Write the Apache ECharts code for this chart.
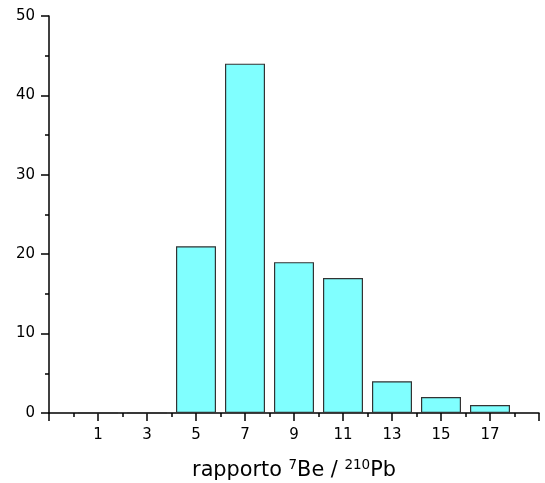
<!DOCTYPE html>
<html>
<head>
<meta charset="utf-8">
<script src="https://cdn.jsdelivr.net/npm/echarts@6/dist/echarts.min.js"></script>
<style>
  html, body { margin: 0; padding: 0; background: #fff; }
  #chart { width: 545px; height: 483px; }
</style>
</head>
<body>
<div id="chart"></div>
<script>
// Bin centres of the 7Be/210Pb ratio histogram and their counts
const binCenters = [1, 3, 5, 7, 9, 11, 13, 15, 17];
const counts = [0, 0, 21, 44, 19, 17, 4, 2, 1];
// Labelled tick positions on the ratio axis
const xTickLabels = [1, 3, 5, 7, 9, 11, 13, 15, 17];
const yTicks = [0, 10, 20, 30, 40, 50];

const FONT = 'DejaVu Sans';
const INK = '#000';

const chart = echarts.init(document.getElementById('chart'), null, { renderer: 'canvas' });

// The visible ratio axis runs from -1 to 19 with long ticks on odd values
// and short ticks on even values; it is expressed as an offset scale (0..20)
// so that the interval-2 major ticks land on the odd values.
const OFFSET = 1;

chart.setOption({
  animation: false,
  backgroundColor: '#fff',
  grid: { left: 49, right: 6, top: 16, bottom: 70, outerBoundsMode: 'none', containLabel: false },
  xAxis: [
    {
      type: 'value',
      min: -1 + OFFSET,
      max: 19 + OFFSET,
      interval: 2,
      position: 'bottom',
      axisLine: { show: true, lineStyle: { color: INK, width: 1.5 } },
      axisTick: { show: true, inside: false, length: 8, lineStyle: { color: INK, width: 1.5 } },
      minorTick: { show: true, splitNumber: 2, length: 4, lineStyle: { color: INK, width: 1.5 } },
      splitLine: { show: false },
      axisLabel: {
        color: INK,
        fontFamily: FONT,
        fontSize: 15,
        margin: 15,
        formatter: function (v) {
          const r = Math.round(v - OFFSET);
          return xTickLabels.indexOf(r) >= 0 ? String(r) : '';
        }
      },
      name: '{a|rapporto }{s|7}{a|Be / }{s|210}{a|Pb}',
      nameLocation: 'middle',
      nameGap: 45,
      nameTextStyle: {
        rich: {
          a: { fontFamily: FONT, fontSize: 20.8, color: INK, verticalAlign: 'bottom' },
          s: { fontFamily: FONT, fontSize: 13.5, color: INK, verticalAlign: 'bottom', padding: [0, 0, 9, 0] }
        }
      }
    },
    {
      // True-valued ratio scale that the bars are placed on
      type: 'value',
      min: -1,
      max: 19,
      show: false
    }
  ],
  yAxis: {
    type: 'value',
    min: yTicks[0],
    max: yTicks[yTicks.length - 1],
    interval: 10,
    axisLine: { show: true, lineStyle: { color: INK, width: 1.5 } },
    axisTick: { show: true, inside: false, length: 8, lineStyle: { color: INK, width: 1.5 } },
    minorTick: { show: true, splitNumber: 2, length: 4, lineStyle: { color: INK, width: 1.5 } },
    splitLine: { show: false },
    axisLabel: { color: INK, fontFamily: FONT, fontSize: 15, margin: 14 }
  },
  series: [
    {
      type: 'bar',
      xAxisIndex: 1,
      yAxisIndex: 0,
      barWidth: 40,
      data: binCenters.map((c, i) => [c, counts[i]]),
      itemStyle: { color: '#80ffff', borderColor: '#333', borderWidth: 1.2 },
      z: 1
    }
  ]
});
</script>
</body>
</html>
